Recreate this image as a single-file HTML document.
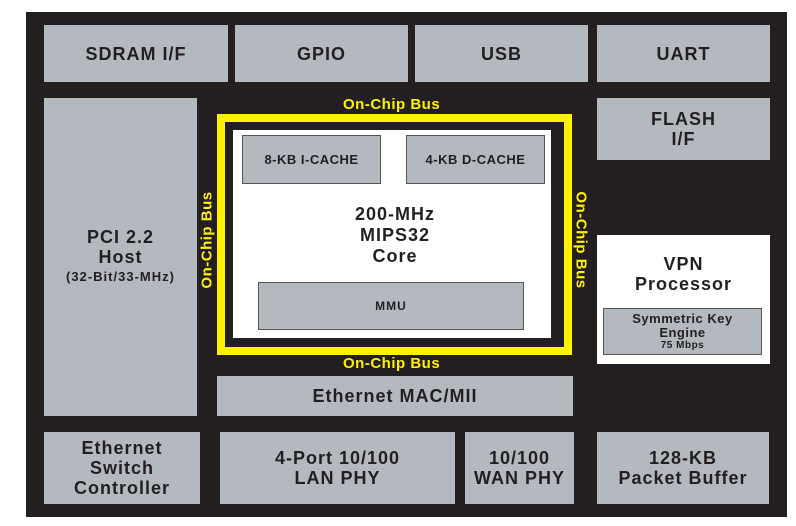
<!DOCTYPE html>
<html><head><style>
body{margin:0;width:796px;height:526px;background:#fff;position:relative;overflow:hidden;font-family:"Liberation Sans",sans-serif;font-weight:bold;color:#231f20;letter-spacing:1px}
.b{position:absolute;background:#b4b9bf;display:flex;align-items:center;justify-content:center;text-align:center;font-size:18px;line-height:20px;box-sizing:border-box}
.y{position:absolute;color:#fff200;font-size:15px;white-space:nowrap;letter-spacing:0.5px}
</style></head><body>
<div style="position:absolute;left:26px;top:12px;width:761px;height:505px;background:#231f20"></div>
<div class="b" style="left:44px;top:25px;width:184px;height:57px">SDRAM I/F</div>
<div class="b" style="left:235px;top:25px;width:173px;height:57px">GPIO</div>
<div class="b" style="left:415px;top:25px;width:173px;height:57px">USB</div>
<div class="b" style="left:597px;top:25px;width:173px;height:57px">UART</div>
<div class="b" style="left:44px;top:98px;width:153px;height:318px;flex-direction:column">PCI 2.2<br>Host<span style="font-size:13px">(32-Bit/33-MHz)</span></div>
<div style="position:absolute;left:217px;top:114px;width:355px;height:241px;box-sizing:border-box;border:8px solid #fff200"></div>
<div style="position:absolute;left:233px;top:130px;width:318px;height:208px;background:#fff"></div>
<div class="b" style="left:242px;top:135px;width:139px;height:49px;font-size:13px;letter-spacing:0.5px;border:1px solid #555">8-KB I-CACHE</div>
<div class="b" style="left:406px;top:135px;width:139px;height:49px;font-size:13px;letter-spacing:0.5px;border:1px solid #555">4-KB D-CACHE</div>
<div style="position:absolute;left:290px;top:204px;width:210px;text-align:center;font-size:18px;line-height:21px">200-MHz<br>MIPS32<br>Core</div>
<div class="b" style="left:258px;top:282px;width:266px;height:48px;font-size:12px;border:1px solid #555">MMU</div>
<div class="y" style="left:343px;top:96px">On-Chip Bus</div>
<div class="y" style="left:343px;top:355px">On-Chip Bus</div>
<div class="y" style="left:207px;top:240px;transform:translate(-50%,-50%) rotate(-90deg)">On-Chip Bus</div>
<div class="y" style="left:581px;top:240px;transform:translate(-50%,-50%) rotate(90deg)">On-Chip Bus</div>
<div class="b" style="left:597px;top:98px;width:173px;height:62px">FLASH<br>I/F</div>
<div style="position:absolute;left:597px;top:235px;width:173px;height:129px;background:#fff;text-align:center;font-size:18px;line-height:20px;padding-top:19px;box-sizing:border-box">VPN<br>Processor</div>
<div class="b" style="left:603px;top:308px;width:159px;height:47px;font-size:13px;line-height:14px;letter-spacing:0.5px;border:1px solid #555;flex-direction:column">Symmetric Key<br>Engine<span style="font-size:10px;line-height:11px">75 Mbps</span></div>
<div class="b" style="left:217px;top:376px;width:356px;height:40px">Ethernet MAC/MII</div>
<div class="b" style="left:44px;top:432px;width:156px;height:72px">Ethernet<br>Switch<br>Controller</div>
<div class="b" style="left:220px;top:432px;width:235px;height:72px">4-Port 10/100<br>LAN PHY</div>
<div class="b" style="left:465px;top:432px;width:109px;height:72px">10/100<br>WAN PHY</div>
<div class="b" style="left:597px;top:432px;width:172px;height:72px">128-KB<br>Packet Buffer</div>
</body></html>
